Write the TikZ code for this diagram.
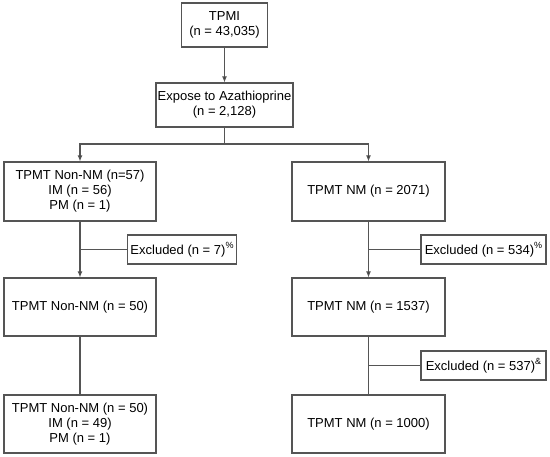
\documentclass[tikz,border=0pt]{standalone}
\usepackage{fontspec}
\setmainfont{Liberation Sans}
\usetikzlibrary{arrows.meta}
\definecolor{ln}{RGB}{85,85,85}
\newcommand{\supmark}[1]{\raisebox{0.9ex}{\fontsize{9}{9}\selectfont #1}}
\begin{document}
\begin{tikzpicture}[x=1pt,y=-1pt,
  box/.style={draw=ln,line width=1.1pt,align=center,inner sep=1pt,font=\fontsize{13}{15}\selectfont},
  conn/.style={draw=ln,line width=1.1pt},
  arr/.style={conn,-{Latex[length=6pt,width=5pt,fill=black]}}]
\useasboundingbox (0,0) rectangle (550,457);
\node[box,minimum width=86pt,minimum height=44pt] (tpmi) at (224.5,25) {TPMI\\(n = 43,035)};
\node[box,minimum width=137pt,minimum height=44pt] (exp) at (224.5,105) {Expose to Azathioprine\\(n = 2,128)};
\node[box,minimum width=152pt,minimum height=59pt] (l1) at (80,191.5) {TPMT Non-NM (n=57)\\IM (n = 56)\\PM (n = 1)};
\node[box,minimum width=152pt,minimum height=58pt] (l2) at (80,307) {TPMT Non-NM (n = 50)};
\node[box,minimum width=152pt,minimum height=58pt] (l3) at (80,424) {TPMT Non-NM (n = 50)\\IM (n = 49)\\PM (n = 1)};
\node[box,minimum width=153pt,minimum height=59pt] (r1) at (368.5,191.5) {TPMT NM (n = 2071)};
\node[box,minimum width=153pt,minimum height=58pt] (r2) at (368.5,307) {TPMT NM (n = 1537)};
\node[box,minimum width=153pt,minimum height=58pt] (r3) at (368.5,424) {TPMT NM (n = 1000)};
\node[box,minimum width=109pt,minimum height=29pt] (e1) at (182,249.5) {Excluded (n = 7)\supmark{\%}};
\node[box,minimum width=125pt,minimum height=29pt] (e2) at (483.5,249.5) {Excluded (n = 534)\supmark{\%}};
\node[box,minimum width=125pt,minimum height=29pt] (e3) at (483.5,365.5) {Excluded (n = 537)\supmark{\&}};
\coordinate (split) at (224.5,144);
\draw[arr] (tpmi.south) -- (exp.north);
\draw[conn] (exp.south) -- (split);
\draw[arr] (split) -| (l1.north);
\draw[arr] (split) -| (r1.north);
\draw[arr] (l1.south) -- (l2.north);
\draw[arr] (r1.south) -- (r2.north);
\draw[conn] (e1.west) -- (e1.west -| l1.south);
\draw[conn] (e2.west) -- (e2.west -| r1.south);
\draw[conn] (l2.south) -- (l3.north);
\draw[conn] (r2.south) -- (r3.north);
\draw[conn] (e3.west) -- (e3.west -| r2.south);
\end{tikzpicture}
\end{document}
